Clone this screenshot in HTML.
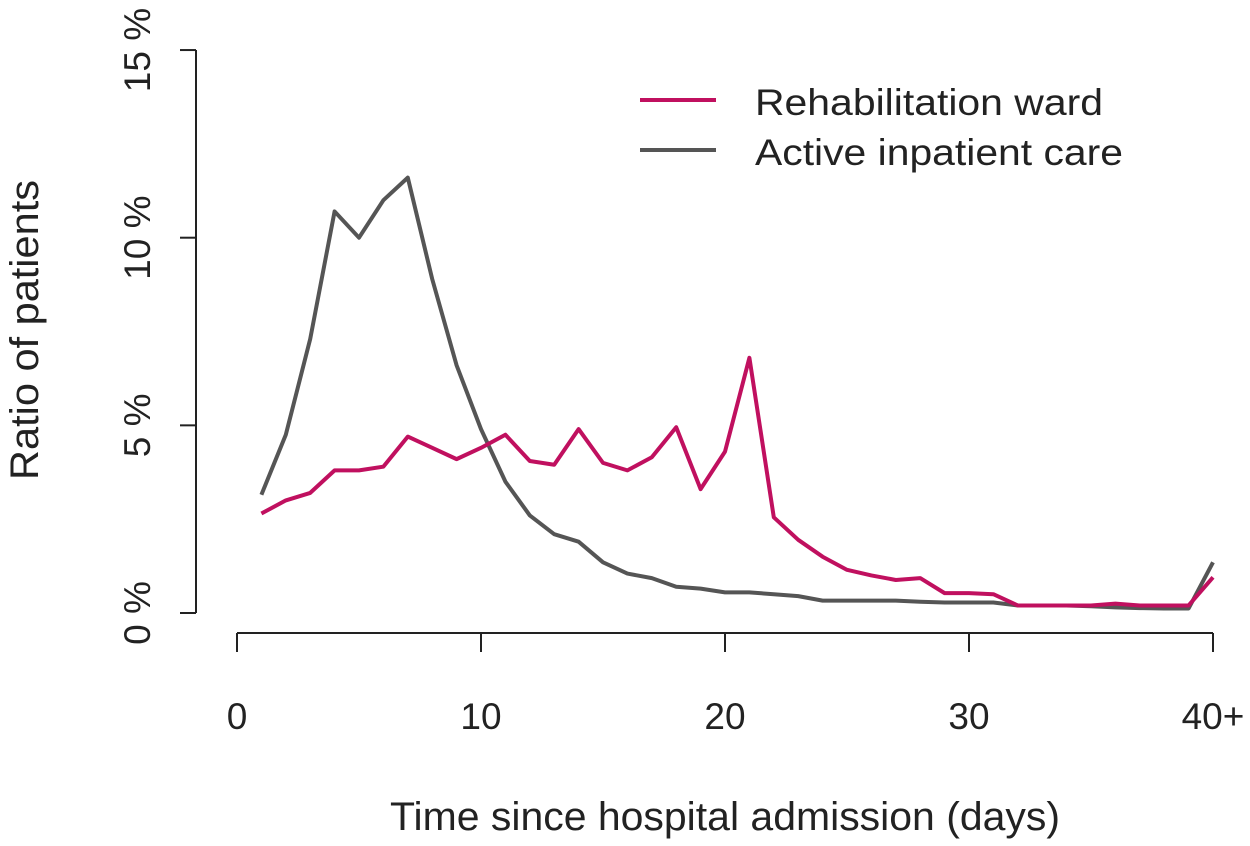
<!DOCTYPE html>
<html><head><meta charset="utf-8"><style>
body{margin:0;background:#fff}
svg text{font-family:"Liberation Sans",sans-serif;fill:#222}
</style></head><body>
<svg width="1250" height="841" viewBox="0 0 1250 841" id="chart">
<g id="axes"></g><g id="series"></g>
<text x="725" y="830" font-size="40" text-anchor="middle" textLength="670" lengthAdjust="spacingAndGlyphs">Time since hospital admission (days)</text>
<text transform="translate(38,330) rotate(-90)" font-size="40" text-anchor="middle" textLength="300" lengthAdjust="spacingAndGlyphs">Ratio of patients</text>
<g>
<line x1="640" y1="100" x2="716" y2="100" stroke="#c0105f" stroke-width="4"/>
<text x="755" y="115" font-size="37" textLength="348" lengthAdjust="spacingAndGlyphs">Rehabilitation ward</text>
<line x1="640" y1="150" x2="716" y2="150" stroke="#555" stroke-width="4"/>
<text x="755" y="165" font-size="37" textLength="368" lengthAdjust="spacingAndGlyphs">Active inpatient care</text>
</g>
</svg>
<script>
const days=[1,2,3,4,5,6,7,8,9,10,11,12,13,14,15,16,17,18,19,20,21,22,23,24,25,26,27,28,29,30,31,32,33,34,35,36,37,38,39,40];
const rehab=[2.65,3.0,3.2,3.8,3.8,3.9,4.7,4.4,4.1,4.4,4.75,4.05,3.95,4.9,4.0,3.8,4.15,4.95,3.3,4.3,6.8,2.55,1.95,1.5,1.15,1.0,0.88,0.93,0.53,0.53,0.5,0.2,0.2,0.2,0.2,0.25,0.2,0.2,0.2,0.95];
const active=[3.15,4.75,7.3,10.7,10.0,11.0,11.6,8.9,6.6,4.9,3.5,2.6,2.1,1.9,1.35,1.05,0.93,0.7,0.65,0.55,0.55,0.5,0.45,0.33,0.33,0.33,0.33,0.3,0.28,0.28,0.28,0.2,0.2,0.2,0.18,0.15,0.13,0.12,0.12,1.35];
const yTicks=[0,5,10,15];
const yTickLabels=["0 %","5 %","10 %","15 %"];
const xTicks=[0,10,20,30,40];
const xTickLabels=["0","10","20","30","40+"];
const NS="http://www.w3.org/2000/svg";
const xs=v=>237+v*24.4, ys=v=>613-v*37.53;
const axes=document.getElementById('axes'), ser=document.getElementById('series');
function mk(tag,attrs,parent){const e=document.createElementNS(NS,tag);for(const k in attrs)e.setAttribute(k,attrs[k]);parent.appendChild(e);return e;}
let e=mk('line',{x1:196,y1:ys(15),x2:196,y2:ys(0),stroke:'#222','stroke-width':2},axes);


e=mk('line',{x1:xs(0),y1:633,x2:xs(40),y2:633,stroke:'#222','stroke-width':2},axes);


yTicks.forEach((t,i)=>{
 let l=mk('line',{x1:180,y1:ys(t),x2:196,y2:ys(t),stroke:'#222','stroke-width':2},axes);
 
 
 let tx=mk('text',{transform:`translate(150,${ys(t)}) rotate(-90)`,'font-size':37,'text-anchor':'middle'},axes);
 tx.textContent=yTickLabels[i];
 
 
});
xTicks.forEach((t,i)=>{
 let l=mk('line',{x1:xs(t),y1:633,x2:xs(t),y2:652,stroke:'#222','stroke-width':2},axes);
 
 
 let tx=mk('text',{x:xs(t),y:729,'font-size':37,'text-anchor':'middle'},axes);
 tx.textContent=xTickLabels[i];
 
 
});
function line(vals,color,name){
 const p=mk('polyline',{points:vals.map((v,i)=>xs(days[i])+','+ys(v)).join(' '),fill:'none',stroke:color,'stroke-width':4,'stroke-linejoin':'round'},ser);
 
 
}
line(active,'#555','line-active-inpatient-care');
line(rehab,'#c0105f','line-rehabilitation-ward');
</script>
</body></html>
